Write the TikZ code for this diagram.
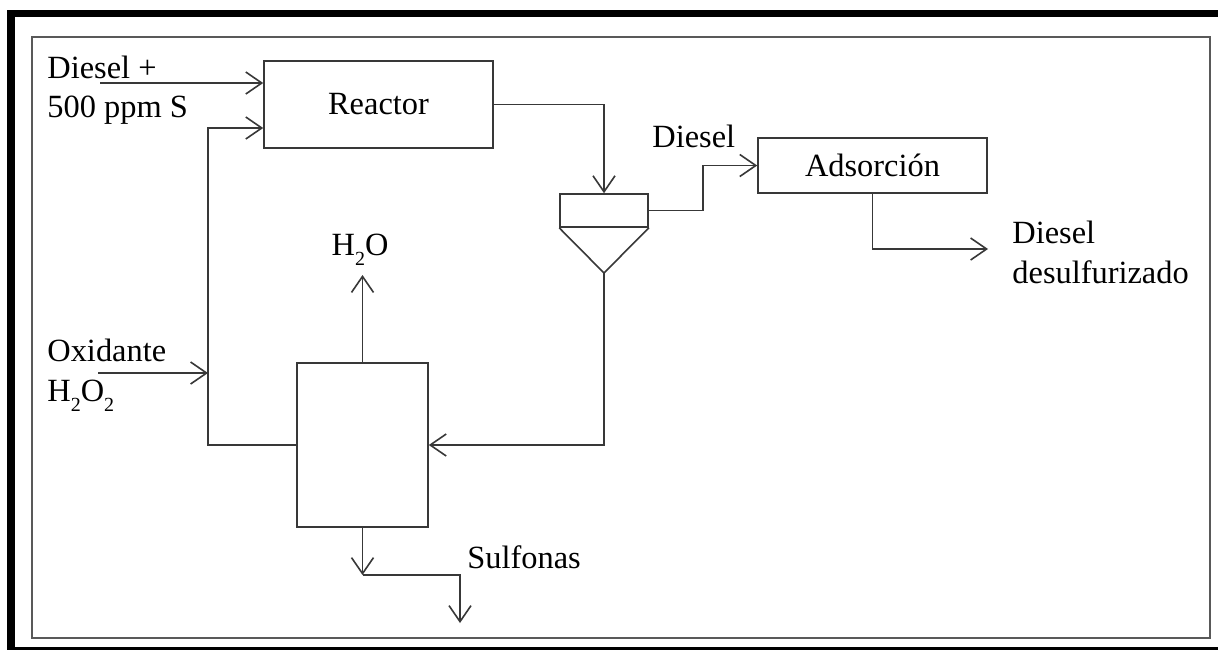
\documentclass[tikz,border=0pt]{standalone}
\usepackage{fontspec}
\setmainfont{Liberation Serif}
\usetikzlibrary{arrows.meta}
\newcommand{\subnum}[1]{\raisebox{-5pt}{\fontsize{10}{10}\selectfont #1}}
\begin{document}
\begin{tikzpicture}[x=0.5pt,y=-0.5pt,
  ln/.style={draw=black!78, line width=0.8pt},
  arr/.style={ln, -{Straight Barb[length=8pt,width=11pt]}},
  box/.style={draw=black!78, line width=0.8pt, rectangle, inner sep=0pt},
  lbl/.style={font=\fontsize{16.2}{19.5}\selectfont, inner sep=0pt}]
\useasboundingbox (0,0) rectangle (1218,650);
% frame
\fill[black] (7,10) rectangle (1218,650);
\fill[white] (15,17) rectangle (1218,647);
\draw[black!65, line width=1pt] (32,37) rectangle (1210,638);

% units
\node[box, lbl, minimum width=114.5pt, minimum height=43.5pt] (reactor) at (378.5,104.5) {Reactor};
\node[box, minimum width=44pt, minimum height=16.5pt] (sep) at (604,210.5) {};
\coordinate (apex) at (604,273);
\draw[ln, line join=round] (sep.south west) -- (apex) -- (sep.south east);
\node[box, lbl, minimum width=114.5pt, minimum height=27.5pt] (ads) at (872.5,165.5) {Adsorción};
\node[box, minimum width=65.5pt, minimum height=82pt] (hx) at (362.5,445) {};

% helper coordinates
\coordinate (feed1) at (100,83);
\coordinate (feed2) at (98,373);
\coordinate (rec) at (208,445);
\coordinate (rectop) at (208,128);
\coordinate (j) at (703,200);
\coordinate (h2o) at (362.5,275);
\coordinate (s1) at (362.5,575);
\coordinate (s2) at (460,623);
\coordinate (prod) at (988,249);

% connectors
\draw[arr] (feed1) -- (feed1 -| reactor.west);
\draw[arr] (hx.west) -- (rec) -- (rectop) -- (rectop -| reactor.west);
\draw[arr] (feed2) -- (feed2 -| rec);
\draw[arr] (reactor.east) -- (reactor.east -| sep.north) -- (sep.north);
\draw[arr] (sep.east) -- (sep.east -| j) -- (j |- ads.west) -- (ads.west);
\draw[arr] (apex) |- (hx.east);
\draw[arr] (hx.north) -- (h2o);
\draw[arr] (hx.south) -- (s1);
\draw[arr] (s1) -| (s2);
\draw[arr] (ads.south) |- (prod);

% labels
\node[lbl, anchor=base west] (l1) at (47,78) {Diesel +};
\node[lbl, anchor=base west] (l2) at (47,117) {500 ppm S};
\node[lbl, anchor=base west] (l3) at (47,361) {Oxidante};
\node[lbl, anchor=base west] (l4) at (47,401) {H\subnum{2}O\subnum{2}};
\node[lbl, anchor=base west] (l5) at (652,147) {Diesel};
\node[lbl, anchor=base west] (l6) at (1012,243) {Diesel};
\node[lbl, anchor=base west] (l7) at (1012,283) {desulfurizado};
\node[lbl, anchor=base] (l8) at (360,255) {H\subnum{2}O};
\node[lbl, anchor=base west] (l9) at (467,568) {Sulfonas};
\end{tikzpicture}
\end{document}
